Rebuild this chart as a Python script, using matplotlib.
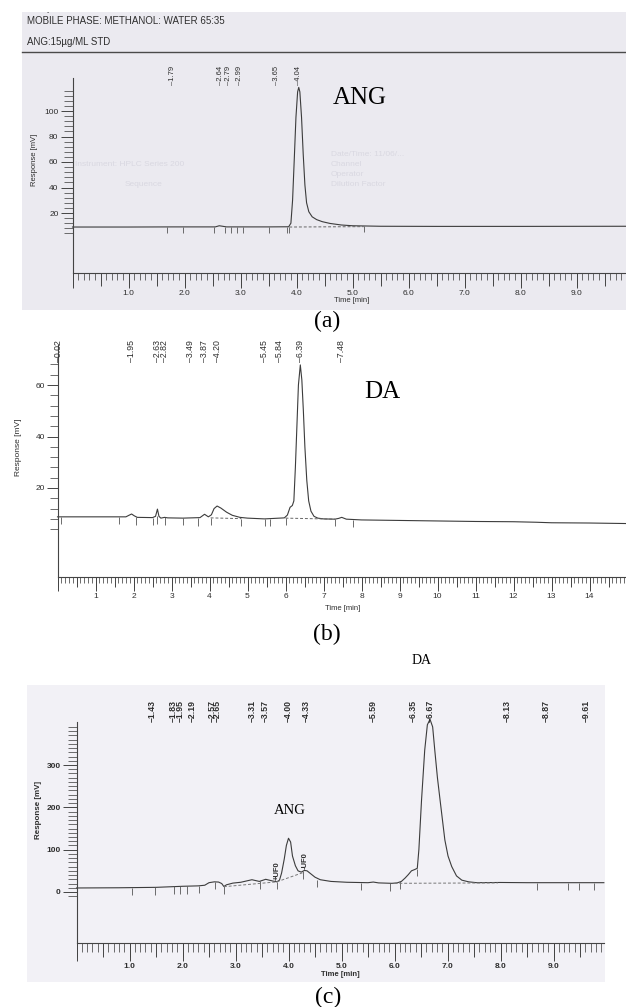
import numpy as np
import matplotlib
matplotlib.use("Agg")
import matplotlib.pyplot as plt
from matplotlib.ticker import FixedLocator, FixedFormatter
from matplotlib.transforms import blended_transform_factory
from matplotlib.patches import Rectangle
from matplotlib.lines import Line2D

# ---------------- data ----------------
# (a) ANG standard
a_time = [0.0, 1.0, 1.79, 2.55, 2.62, 2.68, 2.75, 3.5, 3.86, 3.90, 3.93, 3.96, 3.99, 4.02,
          4.04, 4.06, 4.09, 4.12, 4.15, 4.18, 4.22, 4.28, 4.36, 4.46, 4.6, 4.8, 5.0, 5.5,
          6.5, 8.0, 9.9]
a_resp = [9.0, 9.0, 9.1, 9.1, 10.0, 9.6, 9.1, 9.1, 9.2, 12.0, 30.0, 62.0, 95.0, 115.0,
          118.5, 115.0, 95.0, 66.0, 42.0, 28.0, 21.0, 17.0, 14.8, 13.2, 11.8, 10.6, 10.0, 9.6,
          9.5, 9.5, 9.6]
a_rt_labels = [1.79, 2.64, 2.79, 2.99, 3.65, 4.04]
a_event_t = [1.69, 1.97, 2.53, 2.72, 2.83, 2.93, 3.04, 3.51, 3.83, 3.87, 5.2]
a_event_y = [9.0, 9.1, 9.1, 9.3, 9.1, 9.1, 9.1, 9.1, 9.1, 9.2, 9.6]
a_dash_t = [3.87, 5.2]
a_dash_y = [9.0, 9.3]

# (b) DA standard
b_time = [0.0, 1.0, 1.8, 1.88, 1.95, 2.02, 2.1, 2.5, 2.58, 2.63, 2.67, 2.72, 2.82, 2.9,
          3.3, 3.75, 3.87, 3.97, 4.05, 4.12, 4.2, 4.3, 4.45, 4.6, 4.8, 5.0, 5.45, 5.84,
          5.97, 6.05, 6.12, 6.18, 6.22, 6.26, 6.3, 6.34, 6.39, 6.43, 6.47, 6.51, 6.56,
          6.61, 6.67, 6.75, 6.85, 7.0, 7.3, 7.4, 7.48, 7.6, 8.0, 9.0, 10.0, 11.0, 12.0,
          12.6, 13.0, 14.0, 14.96]
b_resp = [8.8, 8.8, 8.8, 9.4, 9.9, 9.2, 8.6, 8.5, 9.0, 11.8, 9.0, 8.3, 8.6, 8.4,
          8.3, 8.5, 9.8, 8.8, 9.6, 12.0, 13.0, 12.2, 10.6, 9.4, 8.6, 8.3, 8.0, 8.3,
          8.4, 9.5, 12.5, 13.2, 15.0, 28.0, 44.0, 60.0, 67.8, 62.0, 50.0, 36.0, 23.0,
          15.0, 11.0, 9.0, 8.3, 8.0, 7.9, 8.2, 8.6, 7.9, 7.6, 7.4, 7.2, 7.0, 6.9,
          6.7, 6.5, 6.4, 6.2]
b_rt_labels = [0.02, 1.95, 2.63, 2.82, 3.49, 3.87, 4.20, 5.45, 5.84, 6.39, 7.48]
b_event_t = [0.08, 1.63, 2.07, 2.5, 2.63, 2.83, 3.29, 3.7, 4.03, 4.84, 5.45, 5.6, 6.0, 7.3, 7.78]
b_event_y = [8.8, 8.7, 8.6, 8.5, 9.0, 8.6, 8.3, 8.2, 8.4, 8.1, 7.9, 7.9, 8.3, 7.9, 7.7]
b_dash_segments = [([4.03, 4.84], [8.4, 8.1]), ([6.0, 7.3], [8.3, 7.9])]

# (c) sample
c_time = [0.0, 0.8, 1.5, 1.8, 2.0, 2.3, 2.42, 2.5, 2.6, 2.68, 2.74, 2.78, 2.83, 2.95,
          3.1, 3.31, 3.45, 3.57, 3.7, 3.78, 3.83, 3.87, 3.92, 3.96, 4.0, 4.04, 4.075,
          4.13, 4.18, 4.24, 4.3, 4.35, 4.42, 4.5, 4.6, 4.8, 5.1, 5.5, 5.6, 5.7, 5.95,
          6.05, 6.13, 6.2, 6.26, 6.32, 6.38, 6.43, 6.46, 6.51, 6.57, 6.62, 6.67, 6.72,
          6.76, 6.81, 6.86, 6.95, 7.01, 7.08, 7.17, 7.27, 7.4, 7.55, 8.0, 8.5, 9.0, 9.5, 9.95]
c_resp = [9.5, 10.0, 11.0, 12.5, 13.5, 14.5, 16.0, 22.0, 24.0, 23.5, 20.0, 13.0, 17.0, 21.0,
          23.0, 29.0, 25.0, 30.0, 26.0, 24.0, 28.0, 45.0, 78.0, 110.0, 127.0, 118.0, 85.0,
          62.0, 50.0, 47.0, 51.0, 50.0, 43.0, 35.0, 29.0, 25.0, 23.0, 22.0, 23.5, 21.5, 20.5,
          21.5, 25.0, 33.0, 41.0, 50.0, 53.0, 56.0, 100.0, 217.0, 335.0, 395.0, 408.0, 390.0,
          335.0, 270.0, 217.0, 123.0, 85.0, 60.0, 38.0, 28.0, 24.0, 22.0, 22.5, 22.0, 22.0, 22.0, 22.0]
c_rt_labels = [1.43, 1.83, 1.95, 2.19, 2.57, 2.65, 3.31, 3.57, 4.00, 4.33, 5.59, 6.35,
               6.67, 8.13, 8.87, 9.61]
c_event_t = [1.05, 1.49, 1.84, 1.96, 2.09, 2.31, 2.62, 2.78, 3.47, 3.79, 4.28, 4.54,
             5.36, 5.92, 6.11, 6.42, 8.68, 9.28, 9.49, 9.77]
c_event_y = [10.5, 11.0, 13.0, 13.5, 14.0, 15.0, 24.0, 13.0, 25.0, 24.0, 49.0, 29.0,
             22.0, 21.0, 25.0, 55.0, 22.0, 22.0, 22.0, 22.0]
c_dash_segments = [([2.78, 3.78], [12.5, 24.0]), ([3.78, 4.3], [24.0, 47.0]),
                   ([6.0, 7.95], [20.5, 21.5])]
c_ufo_t = [3.78, 4.31]
c_ufo_text = ["+UF0", "-UF0"]

# ---------------- figure ----------------
W, H = 626, 1007
fig = plt.figure(figsize=(W / 100, H / 100), dpi=100)
fig.patch.set_facecolor("white")
SANS = ["Liberation Sans", "DejaVu Sans"]
SERIF = ["Liberation Serif", "DejaVu Serif"]
INK = "#2e2e2e"
LINE = "#3c3c3c"


def fx(px):
    return px / W


def fy(py):
    return 1 - py / H


def axes_px(x0, y_top, x1, y_bot):
    ax = fig.add_axes([fx(x0), fy(y_bot), (x1 - x0) / W, (y_bot - y_top) / H])
    ax.set_facecolor("none")
    ax.set_zorder(3)
    return ax


def bg(x0, y0, x1, y1, color, z=-1):
    fig.patches.append(Rectangle((fx(x0), fy(y1)), (x1 - x0) / W, (y1 - y0) / H,
                                 transform=fig.transFigure, facecolor=color,
                                 edgecolor="none", zorder=z))


def style(ax, xmax, ylo, yhi, ymaj, ymin_ticks, int_fmt, int_len, half_len, min_len,
          ymaj_len, ymin_len, fs, weight, ypad):
    ax.set_xlim(0, xmax)
    ax.set_ylim(ylo, yhi)
    for s in ("top", "right"):
        ax.spines[s].set_visible(False)
    for s in ("left", "bottom"):
        ax.spines[s].set_color("#444444")
        ax.spines[s].set_linewidth(0.8)
    ax.xaxis.set_major_locator(FixedLocator(np.arange(0, xmax, 0.5)))
    ax.xaxis.set_minor_locator(FixedLocator(np.arange(0, xmax, 0.1)))
    ax.tick_params(axis="x", which="major", length=half_len, width=0.7, color="#444444",
                   labelbottom=False, direction="out")
    ax.tick_params(axis="x", which="minor", length=min_len, width=0.6, color="#555555",
                   direction="out")
    sec = ax.secondary_xaxis("bottom")
    ints = np.arange(0, int(xmax) + 1, 1.0)
    sec.xaxis.set_major_locator(FixedLocator(ints))
    sec.xaxis.set_major_formatter(FixedFormatter(["" if v == 0 else int_fmt.format(v) for v in ints]))
    sec.tick_params(axis="x", length=int_len, width=0.7, color="#444444", pad=1.2,
                    labelsize=fs, labelcolor=INK)
    sec.spines["bottom"].set_visible(False)
    for lab in sec.get_xticklabels():
        lab.set_fontfamily(SANS)
        lab.set_fontweight(weight)
    ax.yaxis.set_major_locator(FixedLocator(ymaj))
    ax.yaxis.set_minor_locator(FixedLocator(ymin_ticks))
    ax.tick_params(axis="y", which="major", length=ymaj_len, width=0.7, color="#444444",
                   labelsize=fs, labelcolor=INK, pad=ypad)
    ax.tick_params(axis="y", which="minor", length=ymin_len, width=0.6, color="#555555")
    ax.set_yticklabels([str(v) for v in ymaj], fontfamily=SANS, fontweight=weight)


def rt_labels(ax, rts, bottom_px, fs, weight):
    tr = blended_transform_factory(ax.transData, fig.transFigure)
    for rt in rts:
        ax.text(rt, fy(bottom_px), "\u2013" + f"{rt:.2f}", rotation=90, ha="center",
                va="bottom", transform=tr, fontsize=fs, fontfamily=SANS,
                fontweight=weight, color=INK, clip_on=False)


# ======================= panel (a) =======================
bg(22, 12, 626, 310, "#ebeaf0")
fig.text(fx(27), fy(8), "Sample Notes:", fontsize=7, fontfamily=SANS, color=INK,
         va="center", zorder=1)
bg(0, 0, 626, 12, "white", z=5)
fig.text(fx(27), fy(21), "MOBILE PHASE: METHANOL: WATER 65:35", fontsize=7,
         fontfamily=SANS, color=INK, va="center")
fig.text(fx(27), fy(42), "ANG:15\u00b5g/ML STD", fontsize=7, fontfamily=SANS,
         color=INK, va="center")
fig.add_artist(Line2D([fx(22), 1.0], [fy(52), fy(52)], transform=fig.transFigure,
                      color="#4a4a4a", lw=1.0))
for (px, py, s) in [(331, 154, "Date/Time: 11/06/...   "), (331, 164, "Channel"),
                    (331, 174, "Operator"), (331, 185, "Dilution Factor"),
                    (75, 165, "Instrument: HPLC Series 200"), (125, 185, "Sequence")]:
    fig.text(fx(px), fy(py), s, fontsize=6, fontfamily=SANS, color="#d9d8e1", va="center",
             zorder=1)

axa = axes_px(72.5, 78, 626, 273)
a_xmax = (626 - 72.5) / 56.0
a_ylo = 20 - (273 - 213) / 1.275
a_yhi = 20 + (213 - 78) / 1.275
style(axa, a_xmax, a_ylo, a_yhi, [20, 40, 60, 80, 100],
      [v for v in range(4, 124, 4) if v % 20], "{:.1f}", 10.8, 9.4, 5.0, 8.6, 6.5, 6, "normal", 1.5)
axa.plot(a_time, a_resp, color=LINE, lw=0.8, clip_on=False)
axa.vlines(a_event_t, np.array(a_event_y) - 4.8, a_event_y, color="#555555", lw=0.6)
axa.plot(a_dash_t, a_dash_y, color="#666666", lw=0.7, ls=(0, (3, 2)))
rt_labels(axa, a_rt_labels, 85, 5.5, "normal")
fig.text(fx(352), fy(301), "Time [min]", fontsize=5.5, fontfamily=SANS, color=INK,
         ha="center", va="center")
fig.text(fx(34), fy(160), "Response [mV]", fontsize=5.5, fontfamily=SANS, color=INK,
         ha="center", va="center", rotation=90)
fig.text(fx(360), fy(98), "ANG", fontsize=18, fontfamily=SERIF, color="black",
         ha="center", va="center")
fig.text(fx(327), fy(321), "(a)", fontsize=17, fontfamily=SERIF, color="black",
         ha="center", va="center")

# ======================= panel (b) =======================
axb = axes_px(57.5, 345, 626, 577)
b_xmax = (626 - 57.5) / 38.0
b_ylo = 20 - (577 - 488) / 2.575
b_yhi = 20 + (488 - 345) / 2.575
style(axb, b_xmax, b_ylo, b_yhi, [20, 40, 60],
      [v for v in range(4, 72, 4) if v % 20], "{:.0f}", 10.0, 7.2, 4.3, 8.0, 5.8, 6, "normal", 1.0)
axb.plot(b_time, b_resp, color=LINE, lw=0.8, clip_on=False)
axb.vlines(b_event_t, np.array(b_event_y) - 2.8, b_event_y, color="#555555", lw=0.6)
for tt, yy in b_dash_segments:
    axb.plot(tt, yy, color="#666666", lw=0.7, ls=(0, (3, 2)))
rt_labels(axb, b_rt_labels, 362, 6.3, "normal")
fig.text(fx(343), fy(609), "Time [min]", fontsize=5.5, fontfamily=SANS, color=INK,
         ha="center", va="center")
fig.text(fx(18), fy(447), "Response [mV]", fontsize=6, fontfamily=SANS, color=INK,
         ha="center", va="center", rotation=90)
fig.text(fx(382), fy(392), "DA", fontsize=18, fontfamily=SERIF, color="black",
         ha="center", va="center")
fig.text(fx(327), fy(634), "(b)", fontsize=17, fontfamily=SERIF, color="black",
         ha="center", va="center")

# ======================= panel (c) =======================
bg(27, 685, 605, 982, "#f2f1f6")
axc = axes_px(76.5, 722, 604, 943)
c_xmax = (604 - 76.5) / 53.0
c_ylo = -(943 - 892) / 0.4233
c_yhi = (892 - 722) / 0.4233
style(axc, c_xmax, c_ylo, c_yhi, [0, 100, 200, 300],
      [v for v in range(-10, 400, 10) if v % 100], "{:.1f}", 13.0, 10.0, 6.5, 10.0, 6.5, 6, "bold", 1.5)
axc.plot(c_time, c_resp, color=LINE, lw=0.8, clip_on=False)
axc.vlines(c_event_t, np.array(c_event_y) - 18, c_event_y, color="#555555", lw=0.6)
for tt, yy in c_dash_segments:
    axc.plot(tt, yy, color="#777777", lw=0.7, ls=(0, (3, 2)))
rt_labels(axc, c_rt_labels, 722, 6.3, "bold")
for t_u, s_u in zip(c_ufo_t, c_ufo_text):
    y_u = np.interp(t_u, c_time, c_resp)
    axc.text(t_u, y_u + 4, s_u, rotation=90, ha="center", va="bottom", fontsize=5.5,
             fontfamily=SANS, fontweight="bold", color=INK)
fig.text(fx(340), fy(974), "Time [min]", fontsize=5.5, fontfamily=SANS, fontweight="bold",
         color=INK, ha="center", va="center")
fig.text(fx(39), fy(810), "Response [mV]", fontsize=5.8, fontfamily=SANS, fontweight="bold",
         color=INK, ha="center", va="center", rotation=90)
fig.text(fx(290), fy(811), "ANG", fontsize=10.5, fontfamily=SERIF, color="black",
         ha="center", va="center")
fig.text(fx(422), fy(660), "DA", fontsize=10, fontfamily=SERIF, color="black",
         ha="center", va="center")
fig.text(fx(328), fy(997), "(c)", fontsize=17, fontfamily=SERIF, color="black",
         ha="center", va="center")

fig.savefig("out.png", dpi=100)
